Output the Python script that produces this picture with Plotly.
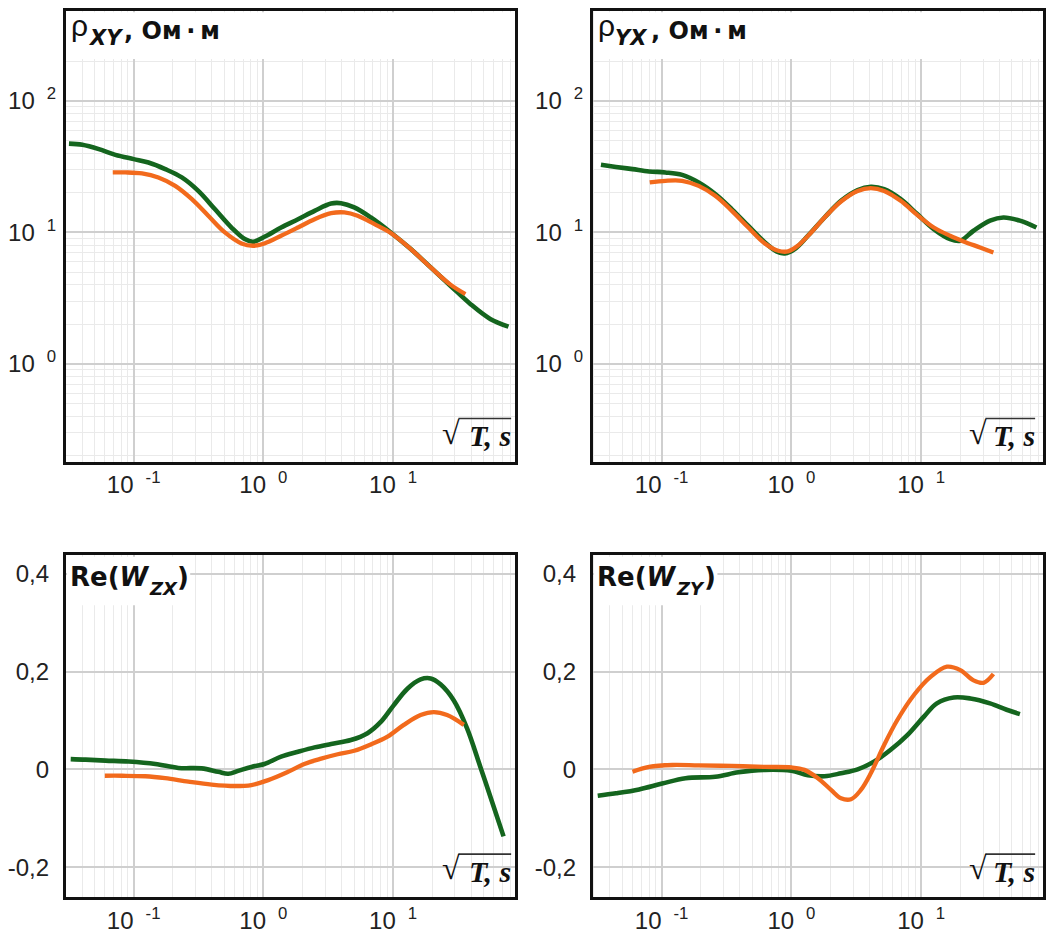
import plotly.graph_objects as go

# ---------------- data ----------------
# Top-left: rho_XY, Ohm*m  vs sqrt(T), s
xy_green_x = [0.0317, 0.0402, 0.0539, 0.0723, 0.100, 0.130, 0.175, 0.235, 0.315, 0.424,
              0.568, 0.719, 0.833, 1.02, 1.37, 1.85, 2.48, 3.33, 3.97, 5.02,
              6.74, 9.60, 13.7, 19.5, 27.7, 39.4, 56.1, 77.6]
xy_green_y = [47.4, 46.4, 43.0, 38.9, 36.1, 34.0, 30.3, 26.2, 20.7, 15.0,
              10.9, 8.9, 8.5, 9.27, 10.9, 12.6, 14.6, 16.6, 16.7, 15.5,
              13.0, 10.0, 7.47, 5.42, 3.93, 2.86, 2.20, 1.92]
xy_orange_x = [0.069, 0.0863, 0.116, 0.155, 0.209, 0.281, 0.376, 0.505, 0.678, 0.833,
               1.02, 1.37, 1.85, 2.48, 3.33, 4.21, 5.33, 7.14, 9.60, 13.7,
               19.5, 27.7, 36.1]
xy_orange_y = [28.6, 28.6, 28.1, 26.2, 22.6, 17.9, 13.4, 10.0, 8.25, 7.92,
               8.25, 9.43, 10.9, 12.6, 14.0, 14.2, 13.4, 11.6, 9.89, 7.47,
               5.42, 4.01, 3.40]

# Top-right: rho_YX
yx_green_x = [0.0341, 0.0445, 0.0597, 0.080, 0.107, 0.144, 0.193, 0.259, 0.348, 0.466,
              0.625, 0.768, 0.889, 1.06, 1.34, 1.80, 2.41, 3.24, 4.09, 5.18,
              6.95, 9.31, 12.5, 16.7, 20.0, 25.3, 33.9, 43.0, 57.6, 77.2]
yx_green_y = [32.7, 31.5, 30.3, 29.1, 28.6, 27.4, 24.0, 19.6, 15.0, 11.2,
              8.40, 7.18, 6.93, 7.47, 9.43, 13.0, 17.4, 21.0, 22.2, 21.3,
              17.9, 13.8, 10.6, 8.89, 8.64, 10.3, 12.3, 13.0, 12.3, 10.9]
yx_orange_x = [0.081, 0.107, 0.144, 0.193, 0.259, 0.348, 0.466, 0.625, 0.791, 0.942,
               1.12, 1.42, 1.80, 2.41, 3.24, 4.09, 5.18, 6.95, 9.31, 12.5,
               16.7, 21.2, 28.4, 36.0]
yx_orange_y = [24.0, 24.7, 24.7, 22.6, 19.0, 14.6, 10.9, 8.25, 7.26, 7.18,
               7.92, 10.0, 13.0, 17.2, 20.7, 21.7, 20.7, 17.4, 13.6, 10.9,
               9.43, 8.55, 7.69, 7.05]

# Bottom-left: Re(W_ZX)
zx_green_x = [0.0327, 0.0426, 0.0606, 0.0916, 0.147, 0.221, 0.334, 0.449, 0.536, 0.639,
              0.809, 1.02, 1.37, 1.85, 2.48, 3.33, 4.73, 6.35, 8.04, 10.1,
              12.9, 16.3, 19.5, 23.2, 29.4, 37.2, 47.1, 59.6, 71.1]
zx_green_y = [0.021, 0.020, 0.018, 0.016, 0.011, 0.003, 0.002, -0.005, -0.009, -0.003,
              0.005, 0.011, 0.026, 0.036, 0.045, 0.052, 0.060, 0.074, 0.097, 0.131,
              0.165, 0.184, 0.186, 0.174, 0.141, 0.084, 0.005, -0.076, -0.137]
zx_orange_x = [0.0599, 0.0813, 0.123, 0.175, 0.264, 0.399, 0.602, 0.809, 1.09, 1.55,
               2.07, 2.79, 3.74, 5.02, 6.74, 9.06, 12.1, 16.3, 20.6, 26.1, 35.1]
zx_orange_y = [-0.013, -0.013, -0.014, -0.018, -0.025, -0.031, -0.034, -0.032, -0.022, -0.005,
               0.011, 0.022, 0.031, 0.038, 0.051, 0.067, 0.091, 0.111, 0.117, 0.111, 0.091]

# Bottom-right: Re(W_ZY)
zy_green_x = [0.0322, 0.0445, 0.0671, 0.101, 0.153, 0.259, 0.391, 0.625, 1.0, 1.34,
              1.80, 2.41, 3.24, 4.35, 5.82, 7.82, 10.5, 13.2, 17.8, 23.9,
              33.9, 45.5, 57.6]
zy_green_y = [-0.054, -0.049, -0.041, -0.029, -0.018, -0.015, -0.006, -0.001, -0.003, -0.012,
              -0.014, -0.008, 0.0, 0.016, 0.040, 0.070, 0.108, 0.135, 0.147, 0.145,
              0.135, 0.122, 0.113]
zy_orange_x = [0.0597, 0.080, 0.121, 0.193, 0.348, 0.625, 1.0, 1.26, 1.60, 2.02,
               2.41, 2.88, 3.43, 4.09, 5.18, 6.55, 8.79, 11.8, 15.8, 20.0,
               25.3, 30.2, 36.0]
zy_orange_y = [-0.005, 0.005, 0.009, 0.008, 0.007, 0.005, 0.004, -0.001, -0.018, -0.042,
               -0.059, -0.061, -0.042, -0.008, 0.050, 0.101, 0.152, 0.189, 0.210, 0.203,
               0.182, 0.177, 0.195]

x_tick_vals = [0.1, 1, 10]
x_tick_text = ["10\u2002<sup>-1</sup>", "10\u2002<sup>0</sup>", "10\u2002<sup>1</sup>"]
rho_tick_vals = [1, 10, 100]
rho_tick_text = ["10\u2002<sup>0</sup>", "10\u2002<sup>1</sup>", "10\u2002<sup>2</sup>"]
w_tick_vals = [-0.2, 0, 0.2, 0.4]
w_tick_text = ["-0,2", "0", "0,2", "0,4"]

rho_subs = ["XY", "YX"]
w_subs = ["ZX", "ZY"]
rho_unit = ",\u00a0Ом\u2009·\u2009м"
axis_label = "T,\u00a0s"

GREEN = "#14651e"
ORANGE = "#f26a1c"
SANS = "Liberation Sans, Arial, sans-serif"
WIDE = "DejaVu Sans, Verdana, sans-serif"
SERIF = "Liberation Serif, Times New Roman, serif"
TICK_FONT = dict(family=SANS, size=24, color="#222222")

# page geometry (the page body adds an 8px margin)
OFF = 8
W_FIG, H_FIG = 1057 - OFF, 934 - OFF


def px(x):
    return (x - OFF) / W_FIG


def py(y):
    return 1 - (y - OFF) / H_FIG


# minor grid positions (2..9 within each decade)
x_minor = [m * 10.0 ** e for e in range(-2, 2) for m in range(2, 10)]
y_minor = [m * 10.0 ** e for e in range(-1, 3) for m in range(2, 10) if 0.2 <= m * 10.0 ** e <= 200]

fig = go.Figure()

LEFT = (60, 512)
RIGHT = (590, 1043)
TOP = (10, 461)
BOTTOM = (555, 897)

panels = [
    # (xaxis id, yaxis id, x px span, y px span, xrange, log y?, dx)
    ("x", "y", LEFT, TOP, [-1.524, 1.941], True, 0),
    ("x2", "y2", RIGHT, TOP, [-1.531, 1.939], True, 530),
    ("x3", "y3", LEFT, BOTTOM, [-1.524, 1.941], False, 0),
    ("x4", "y4", RIGHT, BOTTOM, [-1.531, 1.939], False, 530),
]
series = [
    (xy_green_x, xy_green_y, xy_orange_x, xy_orange_y),
    (yx_green_x, yx_green_y, yx_orange_x, yx_orange_y),
    (zx_green_x, zx_green_y, zx_orange_x, zx_orange_y),
    (zy_green_x, zy_green_y, zy_orange_x, zy_orange_y),
]

for (xa, ya, xs, ys, xr, logy, dx), (gx, gy, ox, oy) in zip(panels, series):
    fig.add_trace(go.Scatter(x=gx, y=gy, mode="lines", xaxis=xa, yaxis=ya,
                             line=dict(color=GREEN, width=4.6, shape="spline", smoothing=1.0),
                             hoverinfo="skip"))
    fig.add_trace(go.Scatter(x=ox, y=oy, mode="lines", xaxis=xa, yaxis=ya,
                             line=dict(color=ORANGE, width=4.3, shape="spline", smoothing=1.0),
                             hoverinfo="skip"))

    xkey = "xaxis" + xa[1:]
    ykey = "yaxis" + ya[1:]
    xd = [px(xs[0]), px(xs[1])]
    yd = [py(ys[1]), py(ys[0])]
    axis_common = dict(showline=True, mirror=True, linecolor="#111111", linewidth=2.5,
                       ticks="", zeroline=False, tickfont=TICK_FONT)
    fig.update_layout({
        xkey: dict(type="log", domain=xd, range=xr, anchor=ya,
                   tickmode="array", tickvals=x_tick_vals, ticktext=x_tick_text,
                   showgrid=True, gridcolor="#cfcfcf", gridwidth=1.6,
                   minor=dict(tickmode="array", tickvals=x_minor, showgrid=True,
                              gridcolor="#eaeaea", gridwidth=1, ticks=""),
                   **axis_common),
    })
    if logy:
        fig.update_layout({
            ykey: dict(type="log", domain=yd, range=[-0.742, 2.684], anchor=xa,
                       tickmode="array", tickvals=rho_tick_vals, ticktext=rho_tick_text,
                       showgrid=True, gridcolor="#cfcfcf", gridwidth=1.6, ticklabelstandoff=2,
                       minor=dict(tickmode="array", tickvals=y_minor, showgrid=True,
                                  gridcolor="#eaeaea", gridwidth=1, ticks=""),
                       **axis_common),
        })
    else:
        fig.update_layout({
            ykey: dict(type="linear", domain=yd, range=[-0.261, 0.4375], anchor=xa,
                       tickmode="array", tickvals=w_tick_vals, ticktext=w_tick_text,
                       showgrid=True, gridcolor="#cfcfcf", gridwidth=1.6, ticklabelstandoff=9,
                       **axis_common),
        })

shapes = []
annotations = []


def ann(text, x, y, size, family, xanchor="left", yanchor="middle"):
    annotations.append(dict(xref="paper", yref="paper", x=px(x), y=py(y), text=text,
                            showarrow=False, xanchor=xanchor, yanchor=yanchor,
                            font=dict(family=family, size=size, color="#111111")))


for i, (xa, ya, xs, ys, xr, logy, dx) in enumerate(panels):
    xref = xa + " domain"
    yref = ya + " domain"
    if logy:
        # white band hiding the grid under the title
        shapes.append(dict(type="rect", xref=xref, yref=yref, x0=0.003, x1=0.997, y0=0.8936, y1=0.997,
                           fillcolor="white", line=dict(width=0), layer="above"))
        ann("ρ", 63 + dx, 25, 30, SANS)
        ann("<b><i>%s</i></b>" % rho_subs[i], 80 + dx, 37.5, 21, WIDE)
        ann("<b>%s</b>" % rho_unit, 117 + dx, 30, 24, WIDE)
        base = 0
    else:
        shapes.append(dict(type="rect", xref=xref, yref=yref, x0=0.003, x1=0.277, y0=0.854, y1=0.996,
                           fillcolor="white", line=dict(width=0), layer="above"))
        ann("<b>Re(<i>W</i></b>", 62 + dx, 576.5, 26, WIDE)
        ann("<b><i>%s</i></b>" % w_subs[i - 2], 142 + dx, 588, 18, WIDE)
        ann("<b>)</b>", 170 + dx, 577, 26, WIDE)
        base = 436
    # sqrt(T), s label with overline
    shift = 3 if dx else 0
    ann("√", 436 + dx, 432 + base, 32, SERIF)
    ann("<b><i>%s</i></b>" % axis_label, 510 + dx - shift, 435 + base, 30, SERIF, xanchor="right")
    shapes.append(dict(type="line", xref="paper", yref="paper",
                       x0=px(455 + dx), x1=px(508 + dx - shift),
                       y0=py(418 + base), y1=py(418 + base),
                       line=dict(color="#333333", width=1.6)))

fig.update_layout(width=W_FIG, height=H_FIG, margin=dict(l=0, r=0, t=0, b=0),
                  paper_bgcolor="white", plot_bgcolor="white", showlegend=False,
                  shapes=shapes, annotations=annotations)

fig.write_html("out.html")
